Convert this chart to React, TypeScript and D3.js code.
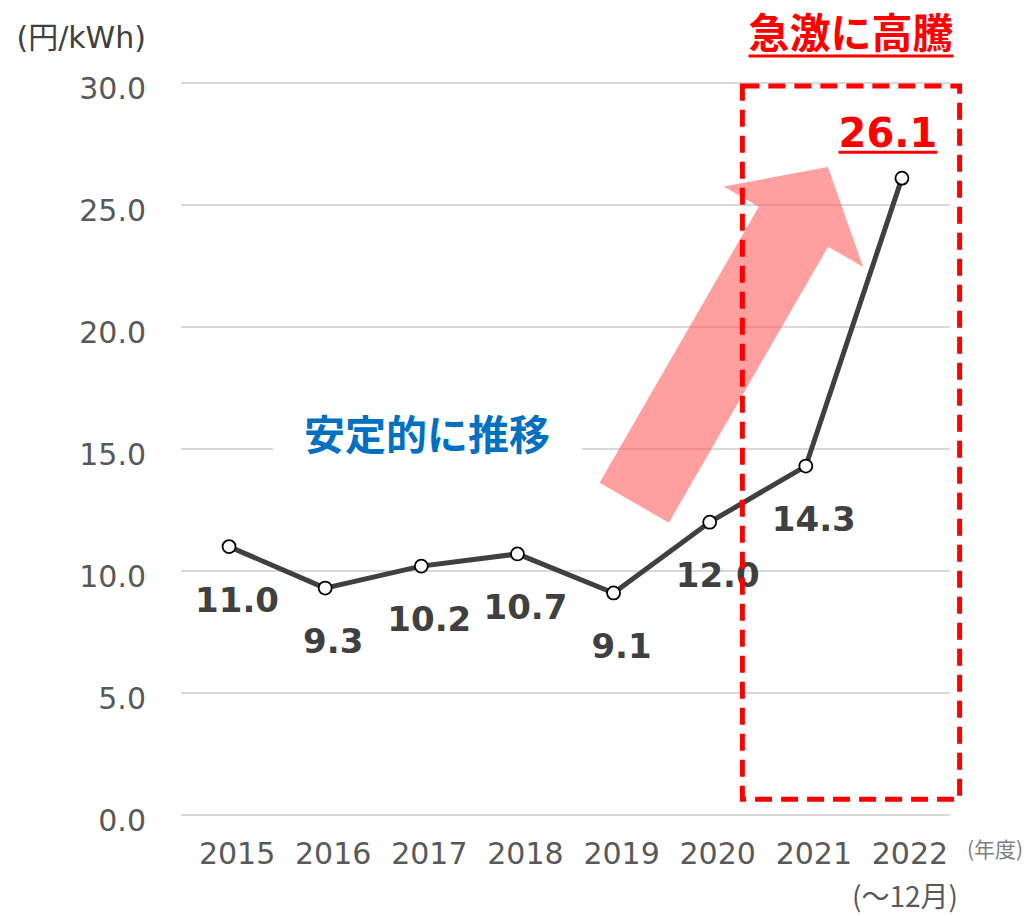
import React, { useEffect, useRef } from "react";
import * as d3 from "d3";

// data
const years = ["2015", "2016", "2017", "2018", "2019", "2020", "2021", "2022"];
const prices = [11.0, 9.3, 10.2, 10.7, 9.1, 12.0, 14.3, 26.1];
const yTicks = [0, 5, 10, 15, 20, 25, 30];

const unitLabel = "(円/kWh)";
const xUnitLabel = "(年度)";
const lastYearNote = "(～12月)";
const stableText = "安定的に推移";
const surgeText = "急激に高騰";

// annotations in data units (category index, value)
const arrowFrom = [4.215, 12.8];
const arrowTo = [6.23, 26.56];
const boxFrom = [5.34, 29.88];
const boxTo = [7.6, 0.65];

const W = 1033;
const H = 916;
const numFont = "'DejaVu Sans', 'Noto Sans CJK JP', sans-serif";
const jpFont = "'Noto Sans CJK JP', sans-serif";

const App = () => {
  const svgRef = useRef<SVGSVGElement>(null);

  useEffect(() => {
    document.body.style.margin = "0";

    const marginLeft = 181;
    const marginRight = 83;
    const y0 = 815;
    const y30 = 83;

    const x = d3
      .scalePoint<string>()
      .domain(years)
      .range([marginLeft, W - marginRight])
      .padding(0.5);
    const xi = (i: number) => (x(years[0]) as number) + i * x.step();

    const y = d3.scaleLinear().domain([0, 30]).range([y0, y30]);

    const svg = d3.select(svgRef.current);
    svg.selectAll("*").remove();

    // gridlines
    svg
      .append("g")
      .selectAll("line")
      .data(yTicks)
      .join("line")
      .attr("x1", marginLeft)
      .attr("x2", W - marginRight)
      .attr("y1", (d) => y(d))
      .attr("y2", (d) => y(d))
      .attr("stroke", "#d9d9d9")
      .attr("stroke-width", 2);

    // y axis labels
    svg
      .append("g")
      .selectAll("text")
      .data(yTicks)
      .join("text")
      .attr("x", 146)
      .attr("y", (d) => y(d) + 16)
      .attr("text-anchor", "end")
      .attr("font-family", numFont)
      .attr("font-size", 30)
      .attr("fill", "#595959")
      .text((d) => d.toFixed(1));

    // x axis labels
    svg
      .append("g")
      .selectAll("text")
      .data(years)
      .join("text")
      .attr("x", (d) => (x(d) as number) + 8)
      .attr("y", 864)
      .attr("text-anchor", "middle")
      .attr("font-family", numFont)
      .attr("font-size", 30)
      .attr("fill", "#595959")
      .text((d) => d);

    svg
      .append("text")
      .attr("x", 995)
      .attr("y", 857)
      .attr("text-anchor", "middle")
      .attr("font-family", jpFont)
      .attr("font-size", 21)
      .attr("fill", "#7f7f7f")
      .text(xUnitLabel);

    svg
      .append("text")
      .attr("x", 905)
      .attr("y", 907)
      .attr("text-anchor", "middle")
      .attr("font-family", jpFont)
      .attr("font-size", 28)
      .attr("fill", "#595959")
      .text(lastYearNote);

    svg
      .append("text")
      .attr("x", 146)
      .attr("y", 48)
      .attr("text-anchor", "end")
      .attr("font-family", numFont)
      .attr("font-size", 30)
      .attr("fill", "#404040")
      .text(unitLabel);

    // "stable" note with white backing over gridline
    svg
      .append("rect")
      .attr("x", 273)
      .attr("y", 410)
      .attr("width", 309)
      .attr("height", 50)
      .attr("fill", "#fff");
    svg
      .append("text")
      .attr("x", 427)
      .attr("y", 450)
      .attr("text-anchor", "middle")
      .attr("font-family", jpFont)
      .attr("font-weight", 700)
      .attr("font-size", 41)
      .attr("fill", "#0070c0")
      .text(stableText);

    // arrow
    const T = [xi(arrowFrom[0]), y(arrowFrom[1])];
    const P = [xi(arrowTo[0]), y(arrowTo[1])];
    const len = Math.hypot(P[0] - T[0], P[1] - T[1]);
    const u = [(P[0] - T[0]) / len, (P[1] - T[1]) / len];
    const n = [-u[1], u[0]];
    const shaftW = 80;
    const headW = 161;
    const headL = 69;
    const B = [P[0] - u[0] * headL, P[1] - u[1] * headL];
    const off = (p: number[], k: number) => [p[0] + n[0] * k, p[1] + n[1] * k];
    const arrowPts = [
      off(T, shaftW / 2),
      off(B, shaftW / 2),
      off(B, headW / 2),
      P,
      off(B, -headW / 2),
      off(B, -shaftW / 2),
      off(T, -shaftW / 2),
    ];
    svg
      .append("polygon")
      .attr("points", arrowPts.map((p) => p.join(",")).join(" "))
      .attr("fill", "#ff5050")
      .attr("fill-opacity", 0.55);

    // line
    const line = d3
      .line<number>()
      .x((_, i) => x(years[i]) as number)
      .y((d) => y(d));
    svg
      .append("path")
      .datum(prices)
      .attr("d", line)
      .attr("fill", "none")
      .attr("stroke", "#404040")
      .attr("stroke-width", 5)
      .attr("stroke-linejoin", "round");

    svg
      .append("g")
      .selectAll("circle")
      .data(prices)
      .join("circle")
      .attr("cx", (_, i) => x(years[i]) as number)
      .attr("cy", (d) => y(d))
      .attr("r", 6.5)
      .attr("fill", "#fff")
      .attr("stroke", "#000")
      .attr("stroke-width", 1.8);

    // data labels (last one is highlighted separately)
    const last = prices.length - 1;
    svg
      .append("g")
      .selectAll("text")
      .data(prices.slice(0, last))
      .join("text")
      .attr("x", (_, i) => (x(years[i]) as number) + 8)
      .attr("y", (d) => y(d) + 65)
      .attr("text-anchor", "middle")
      .attr("font-family", numFont)
      .attr("font-weight", 700)
      .attr("font-size", 34)
      .attr("fill", "#404040")
      .text((d) => d.toFixed(1));

    const underline = (t: d3.Selection<SVGTextElement, unknown, null, undefined>, dy: number) => {
      const bb = (t.node() as SVGTextElement).getBBox();
      svg
        .append("line")
        .attr("x1", bb.x)
        .attr("x2", bb.x + bb.width)
        .attr("y1", +t.attr("y") + dy)
        .attr("y2", +t.attr("y") + dy)
        .attr("stroke", "#ff0000")
        .attr("stroke-width", 3);
    };

    const lastLabel = svg
      .append("text")
      .attr("x", (x(years[last]) as number) - 14)
      .attr("y", y(prices[last]) - 31)
      .attr("text-anchor", "middle")
      .attr("font-family", numFont)
      .attr("font-weight", 700)
      .attr("font-size", 40)
      .attr("fill", "#ff0000")
      .text(prices[last].toFixed(1));
    underline(lastLabel, 5);

    const surge = svg
      .append("text")
      .attr("x", 851)
      .attr("y", 48)
      .attr("text-anchor", "middle")
      .attr("font-family", jpFont)
      .attr("font-weight", 700)
      .attr("font-size", 41)
      .attr("fill", "#ff0000")
      .text(surgeText);
    underline(surge, 8);

    // dashed highlight box
    const bx0 = xi(boxFrom[0]);
    const bx1 = xi(boxTo[0]);
    const by0 = y(boxFrom[1]);
    const by1 = y(boxTo[1]);
    svg
      .append("rect")
      .attr("x", bx0)
      .attr("y", by0)
      .attr("width", bx1 - bx0)
      .attr("height", by1 - by0)
      .attr("fill", "none")
      .attr("stroke", "#ff0000")
      .attr("stroke-width", 5)
      .attr("stroke-dasharray", "17 9");
  }, []);

  return <svg ref={svgRef} width={W} height={H} style={{ display: "block" }} />;
};

export default App;
